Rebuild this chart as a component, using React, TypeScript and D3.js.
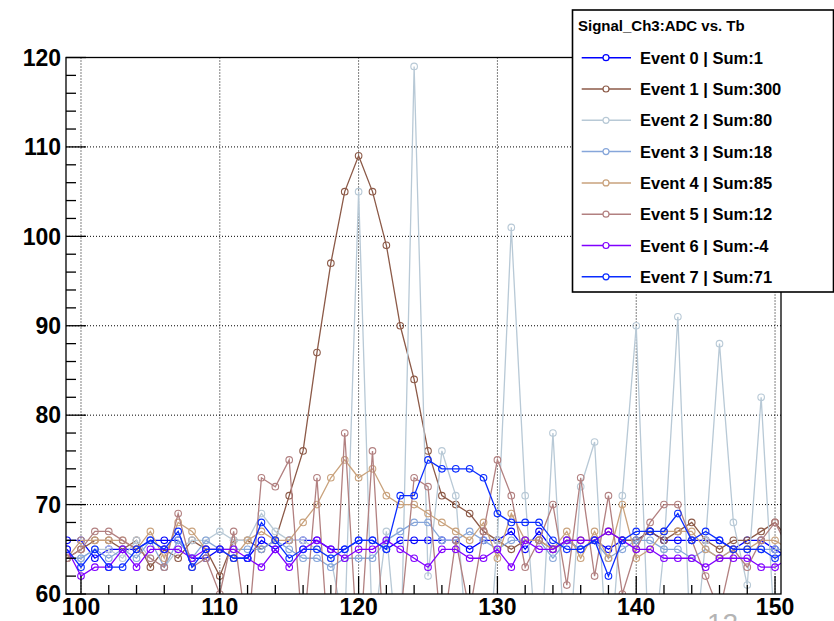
import React from "react";
import * as d3 from "d3";

const tb: number[] = d3.range(99, 152);

const event0 = [66,66,64,65,65,65,66,66,66,64,64,65,64,64,66,65,66,66,66,65,65,66,66,65,66,66,66,66,66,65,66,66,67,65,67,65,66,65,66,65,66,66,67,66,66,66,66,66,65,66,66,65,64];
const event1 = [64,65,66,66,65,66,63,65,64,66,65,62,66,66,65,66,71,76,87,97,105,109,105,99,90,84,76,71,70,69,67,66,65,66,66,65,66,66,66,67,66,66,67,66,67,68,66,65,66,66,67,68,66];
const event2 = [64,64,65,65,64,66,64,63,65,66,66,67,66,66,69,67,66,66,65,64,56,105,55,67,50,119,62,76,71,50,45,66,101,71,50,78,50,72,77,50,71,90,50,65,91,50,66,88,68,61,82,55,66];
const event3 = [64,64,65,64,65,64,66,63,66,64,66,65,65,65,65,66,65,64,64,63,64,64,64,66,67,68,68,66,66,67,66,65,66,66,66,64,66,65,66,64,65,66,66,65,65,64,65,64,65,65,65,65,65];
const event4 = [64,66,66,66,66,65,67,64,68,67,65,65,64,66,67,66,66,68,70,73,75,73,74,71,70,70,69,68,67,66,68,64,69,66,66,65,67,64,67,64,70,64,65,67,67,67,65,64,65,65,66,66,65];
const event5 = [64,65,67,67,66,65,64,63,69,63,64,60,67,55,73,72,75,55,73,50,78,52,76,50,57,73,72,55,66,58,67,75,71,63,66,70,61,73,62,71,60,65,68,70,70,66,62,58,65,63,66,68,65];
const event6 = [65,62,63,63,65,63,65,65,65,64,65,65,65,64,63,65,63,65,66,65,64,65,65,66,65,64,63,65,65,64,64,65,63,66,65,65,66,66,66,67,66,65,65,64,64,64,63,64,64,64,63,63,64];
const event7 = [65,63,65,63,63,65,66,65,67,63,65,65,64,64,68,66,64,65,65,64,65,66,66,65,71,71,75,74,74,74,73,69,68,68,68,66,65,65,66,62,66,67,67,67,69,66,67,66,65,65,65,64,65];

const seriesNames = ["Event 0 | Sum:1","Event 1 | Sum:300","Event 2 | Sum:80","Event 3 | Sum:18","Event 4 | Sum:85","Event 5 | Sum:12","Event 6 | Sum:-4","Event 7 | Sum:71"];
const seriesValues = [event0, event1, event2, event3, event4, event5, event6, event7];
const seriesColors = ["#0000ff","#8c5a48","#b8c9d6","#86a6da","#c9a27c","#b28080","#8000ff","#0a2cff"];

const xTicks = [100,110,120,130,140,150];
const yTicks = [60,70,80,90,100,110,120];
const legendTitle = "Signal_Ch3:ADC vs. Tb";
const cornerLabel = "12";

export default function App() {
  const W = 834, H = 621;
  const left = 66, right = 781, top = 57.5, bottom = 594;
  const x = d3.scaleLinear().domain([98.92, 150.43]).range([left, right]);
  const y = d3.scaleLinear().domain([60, 120]).range([bottom, top]);
  const line = d3.line<[number, number]>().x(d => x(d[0])).y(d => y(d[1]));
  const xMinor = d3.range(100, 151, 2).filter(v => v % 10 !== 0);
  const yMinor = d3.range(62, 120, 2).filter(v => v % 10 !== 0);
  const font = "'Liberation Sans', Arial, Helvetica, sans-serif";

  const lgX = 572.5, lgY = 10, lgW = 261, lgH = 282;
  const rowY0 = 57.7, rowStep = 31.3;

  return (
    <svg width={W} height={H} style={{ position: "absolute", left: 0, top: 0, background: "#fff" }} fontFamily={font}>
      <defs>
        <clipPath id="plotclip">
          <rect x={left} y={top} width={right - left} height={bottom - top} />
        </clipPath>
      </defs>
      <rect x={0} y={0} width={W} height={H} fill="#fff" />
      {xTicks.map(t => (
        <line key={"gx" + t} x1={x(t)} x2={x(t)} y1={top} y2={bottom} stroke="#000" strokeWidth={1} strokeDasharray="1,2" />
      ))}
      {yTicks.filter(t => t > 60 && t < 120).map(t => (
        <line key={"gy" + t} x1={left} x2={right} y1={y(t)} y2={y(t)} stroke="#000" strokeWidth={1} strokeDasharray="1,2" />
      ))}
      <g clipPath="url(#plotclip)">
        {seriesValues.map((vals, si) => {
          const pts: [number, number][] = vals.map((v, i) => [tb[i], v]);
          return (
            <g key={"s" + si}>
              <path d={line(pts) || ""} fill="none" stroke={seriesColors[si]} strokeWidth={1.3} />
              {pts.map((p, i) => (
                <circle key={i} cx={x(p[0])} cy={y(p[1])} r={3.3} fill="none" stroke={seriesColors[si]} strokeWidth={1.1} />
              ))}
            </g>
          );
        })}
      </g>
      <rect x={left} y={top} width={right - left} height={bottom - top} fill="none" stroke="#000" strokeWidth={1.3} />
      {xTicks.map(t => (
        <line key={"xt" + t} x1={x(t)} x2={x(t)} y1={bottom} y2={bottom - 18} stroke="#000" strokeWidth={1.3} />
      ))}
      {xMinor.map(t => (
        <line key={"xm" + t} x1={x(t)} x2={x(t)} y1={bottom} y2={bottom - 9} stroke="#000" strokeWidth={1.3} />
      ))}
      {yTicks.map(t => (
        <line key={"yt" + t} x1={left} x2={left + 20} y1={y(t)} y2={y(t)} stroke="#000" strokeWidth={1.3} />
      ))}
      {yMinor.map(t => (
        <line key={"ym" + t} x1={left} x2={left + 10} y1={y(t)} y2={y(t)} stroke="#000" strokeWidth={1.3} />
      ))}
      {xTicks.map(t => (
        <text key={"xl" + t} x={x(t)} y={615} textAnchor="middle" fontSize={23} fontWeight="bold" fill="#000">{t}</text>
      ))}
      {yTicks.map(t => (
        <text key={"yl" + t} x={61} y={y(t) + 8.2} textAnchor="end" fontSize={23} fontWeight="bold" fill="#000">{t}</text>
      ))}
      <text x={707} y={633} fontSize={28} fill="#b4b4b4">{cornerLabel}</text>
      <rect x={lgX} y={lgY} width={lgW} height={lgH} fill="#fff" stroke="#000" strokeWidth={1.6} />
      <text x={578} y={31} fontSize={15} fontWeight="bold" fill="#000">{legendTitle}</text>
      {seriesNames.map((name, i) => {
        const cy = rowY0 + i * rowStep;
        return (
          <g key={"lg" + i}>
            <line x1={581.7} x2={631} y1={cy} y2={cy} stroke={seriesColors[i]} strokeWidth={1.5} />
            <circle cx={606} cy={cy} r={3} fill="#fff" stroke={seriesColors[i]} strokeWidth={1.2} />
            <text x={640} y={cy + 6} fontSize={16.5} fontWeight="bold" fill="#000">{name}</text>
          </g>
        );
      })}
    </svg>
  );
}
